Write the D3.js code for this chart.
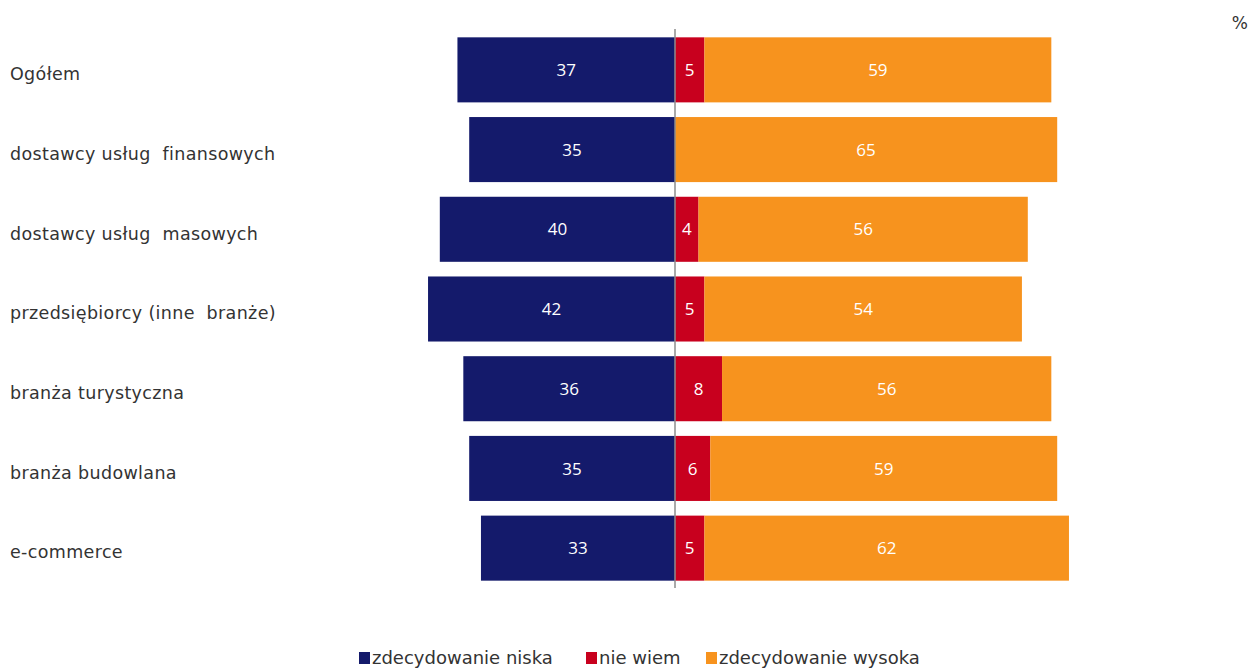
<!DOCTYPE html>
<html>
<head>
<meta charset="utf-8">
<script src="https://cdn.jsdelivr.net/npm/d3@7"></script>
<style>
  html, body { margin: 0; padding: 0; background: #fff; }
  text { font-family: "DejaVu Sans", Verdana, sans-serif; }
</style>
</head>
<body>
<svg id="chart" width="1250" height="668"></svg>
<script>
// Categories and values (%)
const categories = [
  "Ogółem",
  "dostawcy usług  finansowych",
  "dostawcy usług  masowych",
  "przedsiębiorcy (inne  branże)",
  "branża turystyczna",
  "branża budowlana",
  "e-commerce"
];
const lowValues     = [37, 35, 40, 42, 36, 35, 33];
const unknownValues = [5, 0, 4, 5, 8, 6, 5];
const highValues    = [59, 65, 56, 54, 56, 59, 62];
const seriesNames   = ["zdecydowanie niska", "nie wiem", "zdecydowanie wysoka"];
const seriesColors  = ["#141a6b", "#c8001e", "#f7931e"];

const svg = d3.select("#chart");
const textColor = "#333333";

const x = d3.scaleLinear().domain([-50, 70]).range([381, 1086.6]);
const y = d3.scaleBand().domain(categories).range([30, 588])
  .paddingInner(0.184).paddingOuter(0.092);

const rows = categories.map((c, i) => ({
  cat: c, low: lowValues[i], unk: unknownValues[i], high: highValues[i]
}));

// Bars: low to the left of zero, "don't know" then high to the right
const g = svg.append("g");
rows.forEach(r => {
  const segs = [
    { x0: -r.low, x1: 0, v: r.low, color: seriesColors[0] },
    { x0: 0, x1: r.unk, v: r.unk, color: seriesColors[1] },
    { x0: r.unk, x1: r.unk + r.high, v: r.high, color: seriesColors[2] }
  ].filter(s => s.v > 0);
  segs.forEach(s => {
    g.append("rect")
      .attr("x", x(s.x0))
      .attr("y", y(r.cat))
      .attr("width", x(s.x1) - x(s.x0))
      .attr("height", y.bandwidth())
      .attr("fill", s.color);
    g.append("text")
      .attr("x", (x(s.x0) + x(s.x1)) / 2)
      .attr("y", y(r.cat) + y.bandwidth() / 2)
      .attr("dy", "0.36em")
      .attr("text-anchor", "middle")
      .attr("fill", "#ffffff")
      .style("font-family", "'Open Sans', sans-serif")
      .attr("font-size", 17)
      .text(s.v);
  });
});

// Zero line
svg.append("line")
  .attr("x1", x(0)).attr("x2", x(0))
  .attr("y1", 29).attr("y2", 588)
  .attr("stroke", "#8c8c8c").attr("stroke-width", 1.5);

// Category labels
svg.append("g").selectAll("text").data(categories).join("text")
  .attr("x", 10)
  .attr("y", d => y(d) + y.bandwidth() / 2 + 4)
  .attr("dy", "0.36em")
  .attr("fill", textColor)
  .attr("font-size", 17.5)
  .attr("letter-spacing", 0.35)
  .attr("xml:space", "preserve")
  .style("white-space", "pre")
  .text(d => d);

// Unit label
svg.append("text")
  .attr("x", 1248).attr("y", 23)
  .attr("dy", "0.36em")
  .attr("text-anchor", "end")
  .attr("fill", textColor)
  .attr("font-size", 17)
  .text("%");

// Legend
const legendItems = [
  { name: seriesNames[0], color: seriesColors[0], x: 359 },
  { name: seriesNames[1], color: seriesColors[1], x: 586 },
  { name: seriesNames[2], color: seriesColors[2], x: 706 }
];
const lg = svg.append("g");
legendItems.forEach(it => {
  lg.append("rect")
    .attr("x", it.x).attr("y", 652)
    .attr("width", 11).attr("height", 12)
    .attr("fill", it.color);
  lg.append("text")
    .attr("x", it.x + 13).attr("y", 658)
    .attr("dy", "0.36em")
    .attr("fill", textColor)
    .attr("font-size", 18)
    .text(it.name);
});
</script>
</body>
</html>
